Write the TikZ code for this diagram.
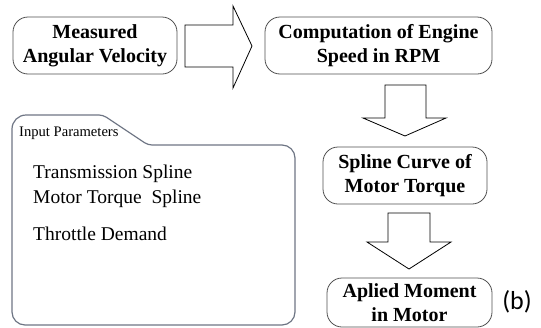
\documentclass[tikz,border=0pt]{standalone}
\usepackage{fontspec}
\setmainfont{Liberation Serif}
\newfontfamily\labelfont{Carlito}
\definecolor{boxgray}{HTML}{505050}
\definecolor{foldergray}{HTML}{6E7584}
\tikzset{
  stagebox/.style={draw=boxgray, rounded corners=15pt, line width=0.8pt, align=center,
    font=\fontsize{20}{24}\selectfont\bfseries, inner sep=0pt},
  blockarrow/.style={draw=black, line width=0.8pt, fill=white, line join=miter},
  folder/.style={draw=foldergray, line width=1.2pt},
  paramtext/.style={font=\fontsize{19.5}{22}\selectfont, anchor=base west, inner sep=0pt},
  headtext/.style={font=\fontsize{14.6}{16}\selectfont, anchor=base west, inner sep=0pt},
}
\begin{document}
\begin{tikzpicture}[x=1pt,y=-1pt]
\useasboundingbox (0,0) rectangle (541,327);

% stage boxes
\node[stagebox, minimum width=164pt, minimum height=57pt] (measured) at (95,45.5) {Measured\\Angular Velocity};
\node[stagebox, minimum width=227pt, minimum height=57pt] (rpm) at (378.5,45.5) {Computation of Engine\\Speed in RPM};
\node[stagebox, minimum width=164pt, minimum height=57pt] (spline) at (405,175.5) {Spline Curve of\\Motor Torque};
\node[stagebox, minimum width=165pt, minimum height=49pt] (moment) at (409.5,302.5) {Aplied Moment\\in Motor};

% block arrows
\draw[blockarrow] (185,25) -- (233,25) -- (233,6) -- (252,46) -- (233,88) -- (233,67) -- (185,67) -- cycle;
\draw[blockarrow] (385,85) -- (426,85) -- (426,118) -- (446,118) -- (405,136) -- (363,118) -- (385,118) -- cycle;
\draw[blockarrow] (388,213) -- (430,213) -- (430,242) -- (451,242) -- (409,269) -- (367,242) -- (388,242) -- cycle;

% input parameters folder
\draw[folder] (12,220) [rounded corners=14pt] -- (12,115) [rounded corners=4pt] -- (103,115) -- (148,145)
  [rounded corners=13pt] -- (295,145) -- (295,325) -- (12,325) -- cycle;
\node[headtext] (inhead) at (19,136) {Input Parameters};
\node[paramtext] (p1) at (33,178) {Transmission Spline};
\node[paramtext] (p2) at (33,203) {Motor Torque\ \ Spline};
\node[paramtext] (p3) at (33,240) {Throttle Demand};

% label
\node[font=\labelfont\fontsize{26}{28}\selectfont, inner sep=0pt] (lab) at (517,302) {(b)};
\end{tikzpicture}
\end{document}
